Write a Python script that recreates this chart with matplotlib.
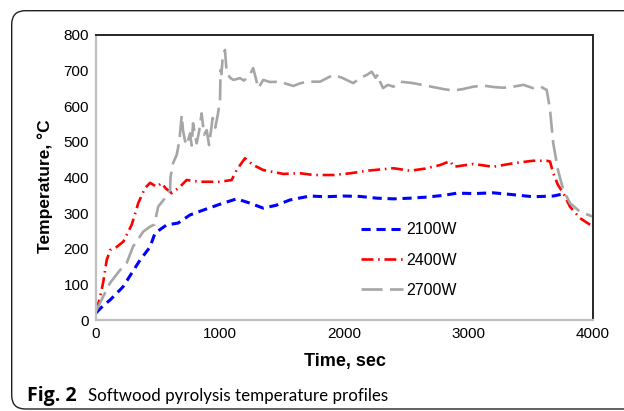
import matplotlib
matplotlib.use("Agg")
import matplotlib.pyplot as plt
from matplotlib.patches import FancyBboxPatch

# ---- data ----
x_2100 = [0, 57, 113, 217, 354, 435, 475, 569, 660, 757, 891, 1023, 1132, 1239, 1346, 1450,
          1561, 1722, 1850, 1988, 2120, 2260, 2394, 2530, 2662, 2800, 2905, 3050, 3197, 3350,
          3517, 3680, 3761]
y_2100 = [20, 40, 56, 93, 168, 205, 244, 267, 272, 295, 312, 328, 340, 328, 314, 322,
          337, 348, 346, 348, 347, 342, 340, 342, 345, 350, 356, 355, 357, 352,
          346, 348, 354]

x_2400 = [0, 30, 57, 86, 113, 140, 166, 220, 287, 340, 394, 435, 488, 528, 560, 609, 676, 730,
          837, 998, 1092, 1132, 1199, 1265, 1346, 1508, 1642, 1750, 1910, 2050, 2180, 2394,
          2529, 2650, 2770, 2850, 2880, 3037, 3197, 3359, 3517, 3627, 3654, 3680, 3718, 3761,
          3815, 3895, 4000]
y_2400 = [25, 60, 104, 168, 196, 200, 205, 220, 267, 328, 370, 385, 374, 384, 370, 356, 374, 393,
          388, 388, 393, 421, 454, 435, 421, 410, 412, 407, 407, 412, 419, 426,
          419, 425, 435, 446, 430, 438, 430, 440, 447, 447, 445, 412, 379, 356,
          318, 286, 262]

x_2700 = [0, 57, 113, 193, 247, 298, 380, 435, 470, 500, 555, 596, 600, 620, 649, 670, 690, 700,
          715, 730, 757, 770, 781, 810, 830, 850, 870, 891, 910, 939, 960, 982, 998, 1003, 1010,
          1019, 1038, 1052, 1080, 1105, 1130, 1159, 1190, 1213, 1240, 1265, 1285, 1306, 1346,
          1400, 1481, 1540, 1588, 1640, 1696, 1803, 1910, 1980, 2070, 2130, 2180, 2219, 2250,
          2270, 2286, 2310, 2350, 2394, 2447, 2551, 2712, 2800, 2875, 2950, 3037, 3120, 3197,
          3280, 3359, 3440, 3517, 3580, 3614, 3627, 3640, 3654, 3680, 3718, 3761, 3815, 3895,
          4000]
y_2700 = [25, 65, 104, 140, 160, 206, 248, 262, 268, 318, 342, 365, 402, 440, 463, 500, 575, 533,
          505, 491, 524, 490, 552, 496, 530, 580, 520, 533, 491, 567, 540, 580, 618, 702, 690,
          735, 758, 693, 680, 674, 676, 679, 672, 679, 690, 707, 680, 651, 674,
          668, 669, 662, 657, 664, 669, 669, 688, 680, 665, 680, 688, 697, 680,
          690, 669, 651, 660, 655, 669, 665, 654, 648, 644, 648, 655, 658, 654,
          652, 655, 660, 651, 655, 648, 646, 620, 590, 496, 421, 365, 328, 304,
          290]

labels = ["2100W", "2400W", "2700W"]
xticks = [0, 1000, 2000, 3000, 4000]
yticks = [0, 100, 200, 300, 400, 500, 600, 700, 800]

# ---- figure ----
W, H = 624, 411
fig = plt.figure(figsize=(W / 100, H / 100), dpi=100)
fig.patch.set_facecolor("white")

# rounded frame
frame = FancyBboxPatch((11.7 / W, (H - 409) / H), 800 / W, (409 - 10.7) / H,
                       boxstyle="round,pad=0,rounding_size=0.022",
                       transform=fig.transFigure, facecolor="none",
                       edgecolor="#231f20", linewidth=1.0, clip_on=False,
                       mutation_aspect=W / H)
fig.patches.append(frame)

ax = fig.add_axes([96 / W, 1 - 320 / H, (593 - 96) / W, (320 - 35) / H])

font = "Liberation Sans"
l1, = ax.plot(x_2100, y_2100, color="#0000ff", lw=2.2, linestyle=(0, (3.0, 1.9)))
l2, = ax.plot(x_2400, y_2400, color="#ff0000", lw=1.9, linestyle=(0, (4.5, 1.8, 0.6, 1.8)))
l3, = ax.plot(x_2700, y_2700, color="#a6a6a6", lw=1.9, linestyle=(0, (8.0, 2.8)))

ax.set_xlim(0, 4000)
ax.set_ylim(0, 800)
ax.set_xticks(xticks)
ax.set_yticks(yticks)
ax.tick_params(length=0, labelsize=11, pad=5)
for lab in ax.get_xticklabels() + ax.get_yticklabels():
    lab.set_fontfamily(font)

for s in ["left", "bottom"]:
    ax.spines[s].set_color("#bfbfbf")
    ax.spines[s].set_linewidth(1.6)
for s in ["top", "right"]:
    ax.spines[s].set_color("#262626")
    ax.spines[s].set_linewidth(1.4)

ax.set_xlabel("Time, sec", fontsize=13, fontweight="bold", family=font, labelpad=9)
ax.set_ylabel("Temperature, \u00b0C", fontsize=12.5, fontweight="bold", family=font)
ax.yaxis.set_label_coords(-0.087, 0.468)

leg = ax.legend([l1, l2, l3], labels, loc="center left",
                bbox_to_anchor=((361 - 96) / 497, (320 - 260) / 285),
                frameon=False, prop={"family": font, "size": 11.5},
                handlelength=2.6, handletextpad=0.25, labelspacing=0.95,
                borderpad=0, borderaxespad=0)

# caption
fig.text(27 / W, 1 - 396 / H, "Fig. 2", fontsize=14, fontweight="bold",
         family="Open Sans", va="center", ha="left")
cap = fig.text(88 / W, 1 - 396 / H, "Softwood pyrolysis temperature profiles", fontsize=14,
               family="Lato", va="center", ha="left")
fig.canvas.draw()
bb = cap.get_window_extent()
cap.set_fontsize(14 * 300 / bb.width)

fig.savefig("out.png", dpi=100, facecolor="white")
